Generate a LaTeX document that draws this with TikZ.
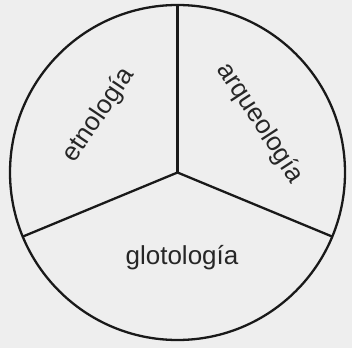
\documentclass[tikz,border=0pt]{standalone}
\usepackage{fontspec}
\setmainfont{Liberation Sans}
\usepackage{tikz}
\usetikzlibrary{calc}
\definecolor{paper}{RGB}{238,238,238}

\begin{document}
\begin{tikzpicture}[
      x=1pt, y=1pt,
      rim/.style={draw=black!90, line width=2.3pt},
      spoke/.style={draw=black!90, line width=2.3pt},
      field/.style={inner sep=0pt, text=black!85,
                    font=\fontsize{26}{30}\selectfont}
    ]
      \fill[paper] (0,0) rectangle (352,348);
      \useasboundingbox (0,0) rectangle (352,348);
      \coordinate (c) at (177.5,175.5);
      %% the three sectors
      \foreach \ang/\nm in {90/spokeT, 202.5/spokeL, -22.5/spokeR}
        \coordinate (\nm) at ($(c)+(\ang:167.5)$);
      \draw[rim] (c) circle[radius=167.5];
      \draw[spoke] (c) -- (spokeT);
      \draw[spoke] (c) -- (spokeL);
      \draw[spoke] (c) -- (spokeR);
      %% labels
      \node[field, rotate=56] (etno) at (99,233) {etnología};
      \node[field, rotate=-57] (arqueo) at (260,225) {arqueología};
      \node[field] (gloto) at (182,90) {glotología};
    \end{tikzpicture}
\end{document}
